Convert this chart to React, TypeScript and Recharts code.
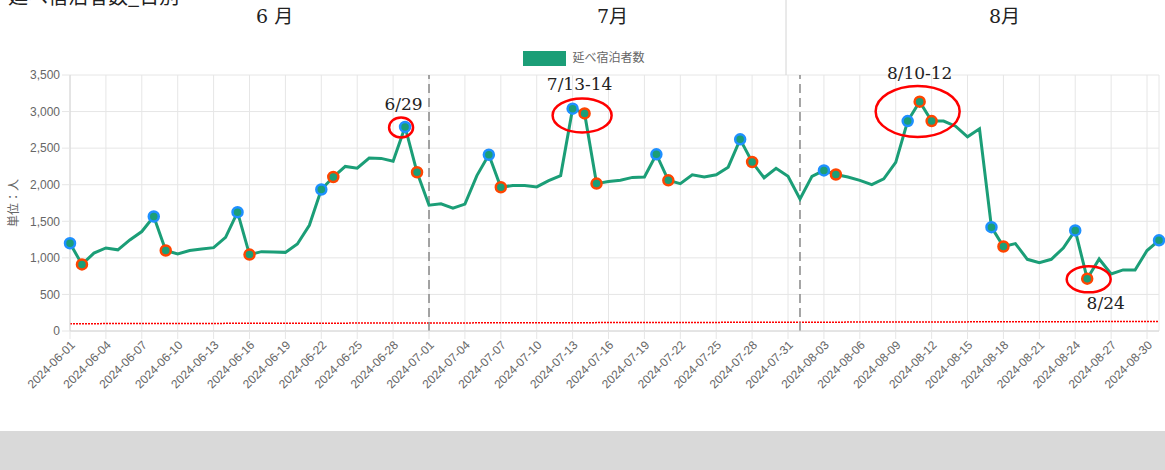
import React from 'react';
import { LineChart, Line, XAxis, YAxis, CartesianGrid, ReferenceLine, ReferenceDot, Legend } from 'recharts';

const dates = [
  '2024-06-01','2024-06-02','2024-06-03','2024-06-04','2024-06-05','2024-06-06','2024-06-07','2024-06-08','2024-06-09','2024-06-10',
  '2024-06-11','2024-06-12','2024-06-13','2024-06-14','2024-06-15','2024-06-16','2024-06-17','2024-06-18','2024-06-19','2024-06-20',
  '2024-06-21','2024-06-22','2024-06-23','2024-06-24','2024-06-25','2024-06-26','2024-06-27','2024-06-28','2024-06-29','2024-06-30',
  '2024-07-01','2024-07-02','2024-07-03','2024-07-04','2024-07-05','2024-07-06','2024-07-07','2024-07-08','2024-07-09','2024-07-10',
  '2024-07-11','2024-07-12','2024-07-13','2024-07-14','2024-07-15','2024-07-16','2024-07-17','2024-07-18','2024-07-19','2024-07-20',
  '2024-07-21','2024-07-22','2024-07-23','2024-07-24','2024-07-25','2024-07-26','2024-07-27','2024-07-28','2024-07-29','2024-07-30',
  '2024-07-31','2024-08-01','2024-08-02','2024-08-03','2024-08-04','2024-08-05','2024-08-06','2024-08-07','2024-08-08','2024-08-09',
  '2024-08-10','2024-08-11','2024-08-12','2024-08-13','2024-08-14','2024-08-15','2024-08-16','2024-08-17','2024-08-18','2024-08-19',
  '2024-08-20','2024-08-21','2024-08-22','2024-08-23','2024-08-24','2024-08-25','2024-08-26','2024-08-27','2024-08-28','2024-08-29',
  '2024-08-30','2024-08-31',
];

const guests = [
  1200, 910, 1065, 1135, 1110, 1245, 1360, 1565, 1100, 1055,
  1100, 1120, 1140, 1280, 1625, 1045, 1085, 1080, 1075, 1190,
  1445, 1935, 2105, 2250, 2225, 2365, 2360, 2320, 2790, 2170,
  1720, 1740, 1680, 1735, 2125, 2410, 1965, 1990, 1990, 1970,
  2055, 2125, 3040, 2975, 2015, 2045, 2060, 2100, 2105, 2415,
  2060, 2015, 2135, 2105, 2135, 2240, 2620, 2310, 2095, 2225,
  2115, 1805, 2115, 2195, 2140, 2105, 2060, 2000, 2080, 2305,
  2870, 3135, 2870, 2870, 2800, 2655, 2765, 1420, 1155, 1195,
  980, 935, 980, 1135, 1375, 715, 985, 780, 835, 835,
  1100, 1240,
];

const saturdayDates = [
  '2024-06-01','2024-06-08','2024-06-15','2024-06-22','2024-06-29','2024-07-06','2024-07-13',
  '2024-07-20','2024-07-27','2024-08-03','2024-08-10','2024-08-17','2024-08-24','2024-08-31',
];
const holidayDates = [
  '2024-06-02','2024-06-09','2024-06-16','2024-06-23','2024-06-30','2024-07-07','2024-07-14','2024-07-15',
  '2024-07-21','2024-07-28','2024-08-04','2024-08-11','2024-08-12','2024-08-18','2024-08-25',
];

const xTickLabels = [
  '2024-06-01','2024-06-04','2024-06-07','2024-06-10','2024-06-13','2024-06-16','2024-06-19','2024-06-22','2024-06-25','2024-06-28',
  '2024-07-01','2024-07-04','2024-07-07','2024-07-10','2024-07-13','2024-07-16','2024-07-19','2024-07-22','2024-07-25','2024-07-28','2024-07-31',
  '2024-08-03','2024-08-06','2024-08-09','2024-08-12','2024-08-15','2024-08-18','2024-08-21','2024-08-24','2024-08-27','2024-08-30',
];
const yTicks = [0, 500, 1000, 1500, 2000, 2500, 3000, 3500];
const monthStarts = ['2024-07-01', '2024-08-01'];
const trendStart = 100;
const trendEnd = 130;

const annotationDates = ['2024-06-29', '2024-07-13', '2024-08-11', '2024-08-25'];
const annotationValues = [2783, 2947, 3002, 706];
const annotationLabels = ['6/29', '7/13-14', '8/10-12', '8/24'];
const annotationShapes = [
  { dx: -4, rx: 12, ry: 10, lx: 2.5, ly: -17 },
  { dx: 9.5, rx: 29.5, ry: 17, lx: -2.5, ly: -25 },
  { dx: -2, rx: 42, ry: 25.5, lx: 2, ly: -32 },
  { dx: 1.5, rx: 22, ry: 13, lx: 17, ly: 29.5 },
];

const seriesName = '延べ宿泊者数';
const GREEN = '#1b9e77';
const SANS = "'Liberation Sans', Arial, 'Noto Sans CJK JP', sans-serif";
const SERIF = "'DejaVu Serif', 'Noto Sans CJK JP', serif";

const data = dates.map((d, i) => ({ date: d, value: guests[i] }));

const renderDot = (props: any) => {
  const { cx, cy, payload, index } = props;
  const d = payload?.date;
  let ring: string | null = null;
  if (saturdayDates.includes(d)) ring = '#1e90ff';
  else if (holidayDates.includes(d)) ring = '#ff4500';
  if (!ring || cx == null || cy == null) return <g key={`d${index}`} />;
  return (
    <circle key={`d${index}`} cx={cx} cy={cy} r={5} fill={GREEN} stroke={ring} strokeWidth={2.5} />
  );
};

const XTick = (props: any) => {
  const { x, y, payload } = props;
  const ty = y + 2;
  const tx = x + 3;
  return (
    <text
      x={tx}
      y={ty}
      transform={`rotate(-45 ${tx} ${ty})`}
      textAnchor="end"
      dominantBaseline="central"
      fontSize={12}
      fill="#666"
      fontFamily={SANS}
    >
      {payload.value}
    </text>
  );
};

const LegendContent = () => (
  <div style={{ display: 'flex', justifyContent: 'center', alignItems: 'center', height: 17, paddingLeft: 3 }}>
    <span style={{ display: 'inline-block', width: 43, height: 15, background: GREEN, marginRight: 6 }} />
    <span style={{ fontSize: 12, color: '#666', fontFamily: SANS, lineHeight: '15px' }}>{seriesName}</span>
  </div>
);

export default function App() {
  return (
    <div style={{ position: 'absolute', left: 0, top: 0, width: 1165, height: 470, background: '#fff', overflow: 'hidden' }}>
      <div style={{ position: 'absolute', left: 0, top: 0 }}>
        <LineChart
          width={1165}
          height={431}
          data={data}
          margin={{ top: 75, right: 6, bottom: 40, left: 0 }}
        >
          <CartesianGrid stroke="#e6e6e6" strokeWidth={1} />
          <XAxis
            dataKey="date"
            ticks={xTickLabels}
            interval={0}
            height={60}
            tickSize={8}
            tickLine={{ stroke: '#e6e6e6' }}
            axisLine={{ stroke: '#d6d6d6' }}
            tick={<XTick />}
          />
          <YAxis
            domain={[0, 3500]}
            ticks={yTicks}
            width={70}
            tickSize={8}
            tickMargin={2}
            tickLine={{ stroke: '#e6e6e6' }}
            axisLine={{ stroke: '#d6d6d6' }}
            tick={{ fontSize: 12, fill: '#666', fontFamily: SANS }}
            tickFormatter={(v: number) => v.toLocaleString('en-US')}
          />
          <Legend
            layout="horizontal"
            verticalAlign="middle"
            align="center"
            wrapperStyle={{ top: 50, left: 0, width: 1165, height: 17 }}
            content={<LegendContent />}
          />
          <ReferenceLine
            segment={[{ x: dates[0], y: trendStart }, { x: dates[dates.length - 1], y: trendEnd }]}
            stroke="#ff0000"
            strokeWidth={1.5}
            strokeDasharray="2 1"
          />
          {monthStarts.map((m) => (
            <ReferenceLine key={m} x={m} stroke="#888" strokeWidth={1.5} strokeDasharray="9 5" />
          ))}
          <Line
            type="linear"
            dataKey="value"
            name={seriesName}
            stroke={GREEN}
            strokeWidth={3}
            dot={renderDot}
            activeDot={false}
            isAnimationActive={false}
          />
          {annotationDates.map((d, i) => {
            const s = annotationShapes[i];
            return (
              <ReferenceDot
                key={d}
                x={d}
                y={annotationValues[i]}
                r={1}
                ifOverflow="visible"
                shape={(p: any) => (
                  <g>
                    <ellipse cx={p.cx + s.dx} cy={p.cy} rx={s.rx} ry={s.ry} fill="none" stroke="#ff0000" strokeWidth={2.5} />
                    <text
                      x={p.cx + s.dx + s.lx}
                      y={p.cy + s.ly}
                      textAnchor="middle"
                      fontSize={17}
                      fill="#222"
                      fontFamily={SERIF}
                    >
                      {annotationLabels[i]}
                    </text>
                  </g>
                )}
              />
            );
          })}
        </LineChart>
      </div>
      <svg width={1165} height={470} style={{ position: 'absolute', left: 0, top: 0, pointerEvents: 'none' }}>
        <text x={8} y={4} fontSize={20} fill="#222" fontFamily="'Noto Sans CJK JP', sans-serif">延べ宿泊者数_日別</text>
        <text x={256} y={23} fontSize={19} fill="#222" fontFamily={SERIF}>6 月</text>
        <text x={597} y={23} fontSize={19} fill="#222" fontFamily={SERIF}>7月</text>
        <text x={989} y={23} fontSize={19} fill="#222" fontFamily={SERIF}>8月</text>
        <line x1={786} y1={0} x2={786} y2={75} stroke="#d4d4d4" strokeWidth={1} />
        <text
          x={14}
          y={203}
          transform="rotate(-90 14 203)"
          textAnchor="middle"
          dominantBaseline="central"
          fontSize={12}
          fill="#666"
          fontFamily={SANS}
        >
          単位：人
        </text>
        <rect x={0} y={431} width={1165} height={39} fill="#d9d9d9" />
      </svg>
    </div>
  );
}
